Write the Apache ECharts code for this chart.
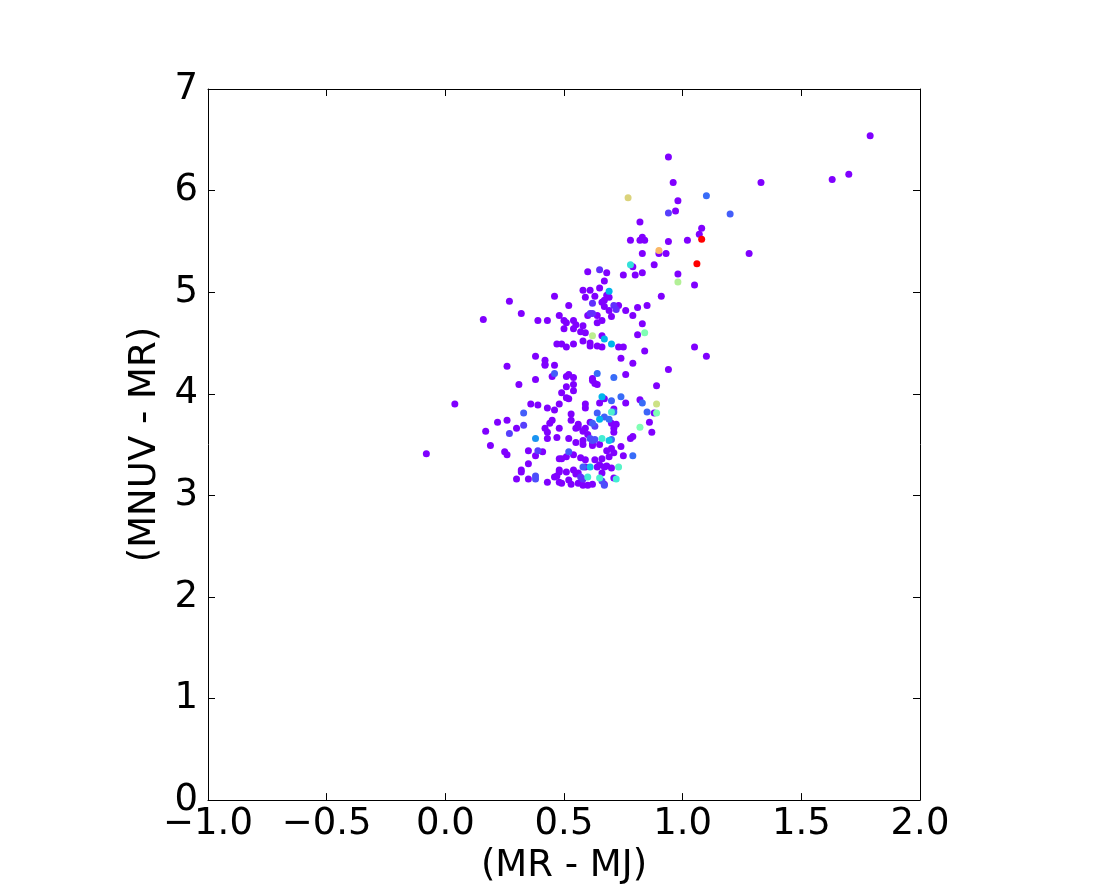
<!DOCTYPE html>
<html>
<head>
<meta charset="utf-8">
<script src="https://cdn.jsdelivr.net/npm/echarts@6/dist/echarts.min.js"></script>
<style>html,body{margin:0;padding:0;background:#fff}#c{width:1100px;height:890px}</style>
</head>
<body>
<div id="c"></div>
<script>
// x = (MR - MJ), y = (MNUV - MR), c = colour value (0..1 on the rainbow colormap)
const xVals = [1.79,0.94,0.96,1.33,1.63,1.70,0.77,1.10,0.98,0.94,0.97,1.20,0.82,1.08,1.07,1.08,0.78,0.82,0.83,0.84,
0.94,1.02,0.90,0.90,0.93,0.83,1.28,0.78,0.79,0.88,1.06,0.68,0.75,0.80,0.83,0.98,0.98,1.05,0.67,0.65,
0.69,0.68,0.69,0.91,0.60,0.65,0.58,0.61,0.59,0.63,0.66,0.67,0.62,0.52,0.71,0.73,0.72,0.69,0.67,0.76,
0.81,0.85,0.79,0.70,0.66,0.83,0.84,0.81,0.66,0.67,0.70,0.66,0.73,0.75,0.84,1.05,1.10,0.94,0.74,0.79,
0.76,0.71,0.89,0.66,0.70,0.74,0.76,0.82,0.83,0.89,0.85,0.88,0.89,0.71,0.70,0.82,0.86,0.87,0.79,0.78,
0.79,0.75,0.74,0.73,0.72,0.71,0.70,0.68,0.65,0.67,0.60,0.61,0.62,0.64,0.64,0.48,0.50,0.51,0.54,0.55,
0.54,0.50,0.58,0.57,0.59,0.62,0.58,0.61,0.61,0.64,0.54,0.51,0.49,0.64,0.52,0.51,0.62,0.16,0.27,0.32,
0.39,0.43,0.46,0.47,0.38,0.42,0.42,0.42,0.46,0.26,0.38,0.46,0.45,0.54,0.31,-0.08,0.04,0.36,0.39,0.43,
0.46,0.48,0.33,0.22,0.26,0.33,0.30,0.17,0.27,0.44,0.45,0.42,0.43,0.43,0.38,0.47,0.48,0.19,0.25,0.26,
0.35,0.39,0.41,0.38,0.48,0.35,0.32,0.32,0.30,0.35,0.38,0.38,0.43,0.46,0.47,0.48,0.48,0.49,0.51,0.52,
0.54,0.53,0.59,0.59,0.67,0.60,0.51,0.54,0.62,0.63,0.64,0.65,0.71,0.64,0.67,0.65,0.69,0.62,0.61,0.63,
0.70,0.72,0.53,0.56,0.56,0.55,0.59,0.58,0.60,0.52,0.55,0.58,0.58,0.61,0.62,0.63,0.66,0.69,0.70,0.71,
0.71,0.65,0.62,0.62,0.52,0.51,0.49,0.54,0.57,0.59,0.63,0.66,0.68,0.70,0.71,0.69,0.58,0.59,0.61,0.64,
0.65,0.67,0.48,0.51,0.54,0.55,0.56,0.57,0.58,0.52,0.53,0.56,0.58,0.60,0.62,0.66,0.67,0.49,0.66];
const yVals = [6.54,6.33,6.08,6.08,6.11,6.16,5.93,5.95,5.90,5.78,5.80,5.77,5.69,5.63,5.57,5.52,5.51,5.51,5.54,5.51,
5.50,5.51,5.41,5.38,5.38,5.38,5.38,5.27,5.25,5.27,5.28,5.19,5.17,5.17,5.19,5.18,5.10,5.07,5.11,5.04,
5.01,4.97,4.95,4.96,5.20,5.22,5.02,5.02,4.95,4.96,4.90,4.92,4.89,4.87,4.87,4.87,4.83,4.82,4.86,4.82,
4.85,4.87,4.77,4.76,4.72,4.69,4.60,4.58,4.57,4.54,4.49,4.46,4.46,4.46,4.42,4.46,4.37,4.24,4.35,4.30,
4.19,4.16,4.08,3.97,3.93,3.97,3.91,3.94,3.91,3.90,3.82,3.81,3.81,3.85,3.82,3.67,3.72,3.62,3.58,3.56,
3.39,3.39,3.48,3.28,3.16,3.17,3.27,3.29,3.17,3.11,4.77,4.79,4.79,4.77,4.70,4.77,4.72,4.70,4.72,4.68,
4.64,4.64,4.67,4.61,4.60,4.57,4.52,4.50,4.47,4.47,4.49,4.46,4.49,4.20,4.19,4.17,4.15,4.73,4.91,4.79,
4.72,4.72,4.96,4.49,4.37,4.33,4.29,4.28,4.28,4.27,4.14,4.20,4.17,4.16,4.09,3.41,3.90,3.90,3.89,3.86,
3.84,3.90,3.81,3.72,3.74,3.69,3.66,3.63,3.61,3.71,3.74,3.66,3.62,3.56,3.56,3.57,3.66,3.49,3.43,3.40,
3.44,3.44,3.43,3.39,3.36,3.31,3.25,3.23,3.16,3.16,3.19,3.16,3.13,3.18,3.19,3.23,3.13,4.01,3.96,3.95,
4.03,3.80,3.90,3.86,3.95,3.18,4.07,4.09,4.13,4.10,4.09,3.91,3.82,3.81,3.77,3.75,3.75,3.71,3.72,3.68,
3.71,3.70,3.74,3.70,3.67,3.66,3.66,3.63,3.60,3.56,3.52,3.54,3.50,3.56,3.54,3.55,3.56,3.54,3.55,3.66,
3.62,3.50,3.49,3.51,3.43,3.38,3.36,3.40,3.37,3.35,3.35,3.36,3.44,3.46,3.42,3.38,3.28,3.28,3.28,3.28,
3.30,3.28,3.25,3.23,3.25,3.21,3.22,3.18,3.16,3.15,3.11,3.12,3.10,3.10,3.11,3.14,3.10,3.12,3.22];
const cVals = [0,0,0,0,0,0,0.68,0.14,0,0.08,0,0.12,0,0,0,1,0,0,0,0,
0,0,0.74,0,0,0,0,0.35,0,0,1,0,0,0,0,0,0.6,0,0,0,
0.25,0,0,0,0,0.06,0,0,0,0,0,0,0.06,0,0.06,0,0.06,0,0,0,
0,0,0,0,0,0,0.5,0,0,0.25,0.25,0,0,0,0,0,0,0,0,0,
0,0.14,0,0.25,0.13,0.14,0,0,0.14,0.65,0.13,0,0.5,0,0.4,0.5,0,0,0,0,
0.14,0,0,0.42,0.38,0,0,0,0.4,0,0,0.06,0.06,0,0,0,0,0,0,0,
0,0,0,0,0,0.62,0,0,0,0,0,0,0,0.14,0,0,0,0,0,0,
0,0,0,0,0,0,0,0,0,0,0,0.12,0,0,0,0,0,0,0,0,
0,0,0.12,0,0,0.08,0,0,0.08,0,0,0,0,0,0.2,0,0,0,0,0,
0,0.08,0,0,0,0,0,0,0,0,0.1,0.1,0,0,0,0,0,0,0,0,
0,0,0,0,0,0.38,0,0,0,0,0,0,0.14,0.12,0.12,0.25,0.14,0.12,0,0.08,
0,0,0,0,0,0,0,0,0,0,0,0,0,0.1,0.1,0.1,0.38,0.28,0.14,0,
0,0,0,0,0.12,0,0,0,0,0,0,0,0,0,0,0,0.12,0,0.28,0,
0,0,0,0,0,0,0,0.06,0.06,0,0,0,0,0,0,0.1,0.1,0,0];
const xTicks = [-1.0,-0.5,0.0,0.5,1.0,1.5,2.0];
const yTicks = [0,1,2,3,4,5,6,7];
const xTitle = '(MR - MJ)';
const yTitle = '(MNUV - MR)';
const rainbow = ['#8000ff','#4062fa','#00b5eb','#40ecd4','#80ffb4','#bfec8e','#ffb462','#ff6232','#ff0000'];

const pts = xVals.map((x,i)=>[x,yVals[i],cVals[i]]).sort((a,b)=>a[2]-b[2]);
const FONT = 'DejaVu Sans';
const FS = 37;
const fmtX = v => (v<0?'\u2212':'') + Math.abs(v).toFixed(1);
const tickCommon = {show:true, inside:true, length:7, lineStyle:{color:'#000',width:1}};
const lineCommon = {show:true, onZero:false, lineStyle:{color:'#000',width:1}};

const chart = echarts.init(document.getElementById('c'), null, {renderer:'canvas'});
chart.setOption({
  animation:false,
  backgroundColor:'#fff',
  grid:{left:208, right:180, top:89, bottom:89, containLabel:false},
  visualMap:{show:false, type:'continuous', dimension:2, min:0, max:1, seriesIndex:0, inRange:{color:rainbow}},
  xAxis:[
    {type:'value', position:'bottom', min:xTicks[0], max:xTicks[xTicks.length-1], interval:0.5,
     axisLine:lineCommon, axisTick:tickCommon, splitLine:{show:false},
     axisLabel:{formatter:fmtX, fontFamily:FONT, fontSize:FS, color:'#000', margin:6},
     name:xTitle, nameLocation:'middle', nameGap:46, nameTextStyle:{fontFamily:FONT, fontSize:FS, color:'#000'}},
    {type:'value', position:'top', min:xTicks[0], max:xTicks[xTicks.length-1], interval:0.5,
     axisLine:lineCommon, axisTick:tickCommon, splitLine:{show:false}, axisLabel:{show:false}}
  ],
  yAxis:[
    {type:'value', position:'left', min:yTicks[0], max:yTicks[yTicks.length-1], interval:1,
     axisLine:lineCommon, axisTick:tickCommon, splitLine:{show:false},
     axisLabel:{fontFamily:FONT, fontSize:FS, color:'#000', margin:10},
     name:yTitle, nameLocation:'middle', nameGap:37, nameRotate:90, nameTextStyle:{fontFamily:FONT, fontSize:FS, color:'#000'}},
    {type:'value', position:'right', min:yTicks[0], max:yTicks[yTicks.length-1], interval:1,
     axisLine:lineCommon, axisTick:tickCommon, splitLine:{show:false}, axisLabel:{show:false}}
  ],
  series:[{type:'scatter', xAxisIndex:0, yAxisIndex:0, symbol:'circle', symbolSize:7, data:pts,
    itemStyle:{opacity:1}}]
});
</script>
</body>
</html>
